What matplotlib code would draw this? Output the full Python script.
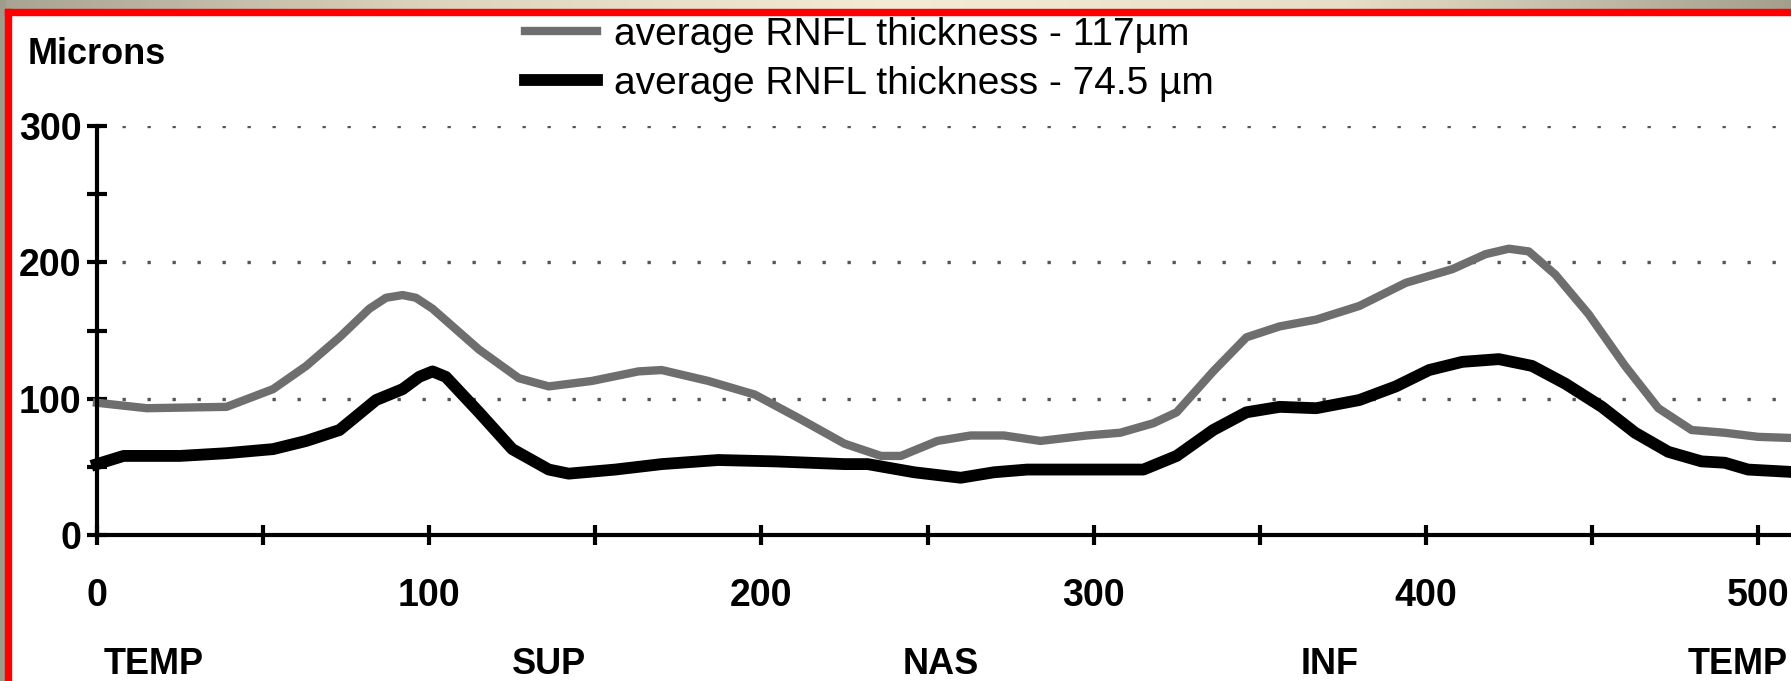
import numpy as np
import matplotlib
matplotlib.use("Agg")
import matplotlib.pyplot as plt
from matplotlib.colors import LinearSegmentedColormap
from matplotlib.patches import Rectangle
from matplotlib.ticker import MultipleLocator
from matplotlib.transforms import blended_transform_factory

# values (position along the scan, microns)
pos_normal = [0, 15, 39, 53, 63, 73, 82, 87, 92, 96, 101, 115, 127, 136, 149,
              163, 170, 184, 198, 211, 225, 236, 242, 253, 263, 273, 284, 298,
              308, 318, 325, 336, 346, 356, 367, 380, 394, 408, 418, 425, 431,
              439, 449, 460, 470, 480, 490, 500, 512]
thick_normal = [97, 93, 94, 107, 124, 145, 166, 174, 176, 174, 166, 136, 115,
                109, 113, 120, 121, 113, 103, 86, 67, 58, 58, 69, 73, 73, 69,
                73, 75, 82, 90, 120, 145, 153, 158, 168, 185, 195, 206, 210,
                208, 191, 162, 124, 93, 77, 75, 72, 71]

pos_thin = [0, 8, 25, 39, 53, 63, 73, 84, 92, 97, 101, 105, 115, 125, 136,
            142, 156, 170, 187, 204, 225, 232, 246, 260, 270, 280, 304, 315,
            325, 336, 346, 356, 367, 380, 391, 401, 411, 422, 432, 442, 453,
            463, 473, 483, 490, 497, 512]
thick_thin = [52, 58, 58, 60, 63, 69, 77, 99, 107, 116, 120, 116, 90, 63, 48,
              45, 48, 52, 55, 54, 52, 52, 46, 42, 46, 48, 48, 48, 58, 77, 90,
              94, 93, 99, 109, 121, 127, 129, 124, 111, 94, 75, 61, 54, 53,
              48, 46]

labels = ["average RNFL thickness - 117\u00b5m", "average RNFL thickness - 74.5 \u00b5m"]
sectors = ["TEMP", "SUP", "NAS", "INF", "TEMP"]
sector_pos = [17, 136, 254, 371, 494]

W, H = 1791, 681
plt.rcParams["font.family"] = ["Liberation Sans", "DejaVu Sans"]
fig = plt.figure(figsize=(W / 100, H / 100), dpi=100, facecolor="white")

# frame decoration: gradient strip on top, grey strip left, red border
bg = fig.add_axes([0, 0, 1, 1], zorder=-5)
bg.set_xlim(0, W)
bg.set_ylim(H, 0)
bg.axis("off")
cmap = LinearSegmentedColormap.from_list(
    "band", ["#a8a493", "#ddd6bf", "#f2ebd5", "#e6dfc8", "#a29f8d"])
bg.imshow(np.linspace(0, 1, 256)[None, :], cmap=cmap, aspect="auto",
          extent=(0, W, 9, 0))
bg.add_patch(Rectangle((0, 0), 5, H, color="#9f9c8b"))
bg.add_patch(Rectangle((5, 9), 6, H, color="#ff0000"))
bg.add_patch(Rectangle((5, 9), W, 6, color="#ff0000"))

x0, x500, y0, y300 = 97, 1758, 535, 126
ax = fig.add_axes([x0 / W, 1 - y0 / H, 1 - x0 / W, (y0 - y300) / H])
ax.set_xlim(0, 500 * (W - x0) / (x500 - x0))
ax.set_ylim(0, 300)
ax.patch.set_alpha(0)

ax.plot(pos_normal, thick_normal, color="#6e6e6e", lw=6, label=labels[0],
        solid_joinstyle="round", clip_on=False)
ax.plot(pos_thin, thick_thin, color="black", lw=8.5, label=labels[1],
        solid_joinstyle="round", clip_on=False)

for g in (100, 200, 300):
    ax.axhline(g, color="#555555", lw=2.4, ls=(0, (1, 6.5)), zorder=0)

for s in ("top", "right"):
    ax.spines[s].set_visible(False)
for s in ("left", "bottom"):
    ax.spines[s].set_linewidth(3)
ax.spines["left"].set_bounds(0, 300)

ax.xaxis.set_major_locator(MultipleLocator(100))
ax.xaxis.set_minor_locator(MultipleLocator(50))
ax.yaxis.set_major_locator(MultipleLocator(100))
ax.yaxis.set_minor_locator(MultipleLocator(50))
ax.tick_params(which="both", direction="inout", length=14, width=3)
ax.tick_params(axis="x", pad=24)
ax.tick_params(axis="y", pad=4)
for t in ax.get_xticklabels() + ax.get_yticklabels():
    t.set_fontsize(27)
    t.set_fontweight("bold")

fig.text(28 / W, 1 - 54 / H, "Microns", fontsize=26, fontweight="bold",
         va="center", ha="left")

trans = blended_transform_factory(ax.transData, fig.transFigure)
for name, p in zip(sectors, sector_pos):
    ax.text(p, 1 - 664 / H, name, transform=trans, ha="center", va="center",
            fontsize=26, fontweight="bold")

fig.legend(loc="upper left", bbox_to_anchor=(525 / W, 1 - 17 / H),
           frameon=False, fontsize=28, handlelength=1.85, handletextpad=0.45,
           labelspacing=0.33, borderpad=0, borderaxespad=0)

fig.savefig("out.png", dpi=100, facecolor="white")
